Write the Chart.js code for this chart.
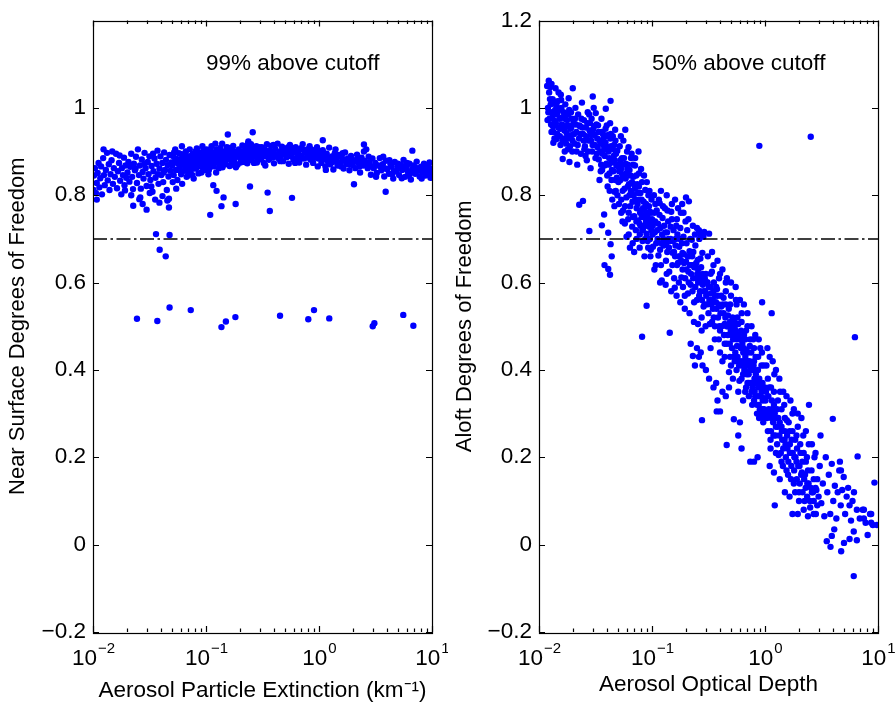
<!DOCTYPE html>
<html>
<head>
<meta charset="utf-8">
<script src="https://cdn.jsdelivr.net/npm/chart.js@4.4.1/dist/chart.umd.min.js"></script>
<style>
  html, body { margin: 0; padding: 0; background: #fff; }
  #wrap { position: relative; width: 896px; height: 706px; }
  canvas { position: absolute; top: 0; }
  #surfaceChart { left: 0; }
  #aloftChart { left: 448px; }
</style>
</head>
<body>
<div id="wrap">
  <canvas id="surfaceChart" width="448" height="706"></canvas>
  <canvas id="aloftChart" width="448" height="706"></canvas>
</div>
<script>
// Axis ticks and the cutoff line
const xTickValues = [0.01, 0.1, 1, 10];
const yTickValues = [-0.2, 0, 0.2, 0.4, 0.6, 0.8, 1, 1.2];
const cutoff = 0.7;

// Left panel: near surface DOF vs aerosol particle extinction (km^-1)
const surfacePoints = [
  // 0.01 - 0.02
  [0.0101,.812],[0.0102,.845],[0.0104,.862],[0.0106,.805],[0.0108,.828],[0.011,.851],[0.0112,.874],[0.0114,.818],
  [0.0116,.839],[0.0118,.866],[0.012,.802],[0.0123,.885],[0.0125,.846],[0.0127,.823],[0.013,.858],[0.0133,.897],
  [0.0135,.834],[0.0138,.871],[0.014,.812],[0.0143,.848],[0.0146,.88],[0.015,.826],[0.0153,.862],[0.0156,.842],
  [0.016,.895],[0.0163,.816],[0.0166,.855],[0.017,.874],[0.0174,.833],[0.0178,.802],[0.018,.862],[0.0184,.846],
  [0.0188,.886],[0.019,.823],[0.0194,.868],[0.0197,.84],[0.0124,.905],[0.0148,.9],[0.0172,.891],[0.0192,.811],
  // 0.02 - 0.05
  [0.0202,.852],[0.0206,.876],[0.021,.831],[0.0214,.865],[0.0218,.895],[0.0222,.842],[0.0226,.814],[0.023,.872],
  [0.0235,.857],[0.024,.888],[0.0245,.828],[0.025,.905],[0.0255,.846],[0.026,.868],[0.0265,.815],[0.027,.882],
  [0.0275,.853],[0.028,.838],[0.0286,.897],[0.0292,.862],[0.0298,.821],[0.0305,.876],[0.031,.848],[0.0316,.889],
  [0.0322,.835],[0.033,.867],[0.0336,.808],[0.0343,.855],[0.035,.884],[0.0357,.84],[0.0365,.872],[0.0372,.902],
  [0.038,.826],[0.0388,.861],[0.0395,.889],[0.0402,.846],[0.041,.874],[0.0418,.83],[0.0426,.898],[0.0434,.858],
  [0.0442,.881],[0.045,.812],[0.0458,.869],[0.0466,.843],[0.0475,.892],[0.0484,.856],[0.0493,.875],[0.0218,.8],
  [0.0262,.795],[0.0318,.805],[0.0355,.79],[0.0412,.798],[0.0455,.788],[0.034,.895],[0.0285,.872],[0.0238,.861],
  [0.0422,.852],[0.0375,.848],[0.0328,.82],
  // 0.05 - 0.1
  [0.0502,.868],[0.051,.89],[0.0518,.846],[0.0526,.877],[0.0534,.905],[0.0542,.858],[0.055,.883],[0.0558,.835],
  [0.0566,.872],[0.0575,.896],[0.0584,.862],[0.0593,.881],[0.0602,.848],[0.0612,.912],[0.0622,.87],[0.0632,.889],
  [0.0642,.856],[0.0652,.878],[0.0663,.9],[0.0674,.842],[0.0685,.866],[0.0696,.887],[0.0707,.872],[0.0718,.905],
  [0.073,.853],[0.0742,.882],[0.0754,.868],[0.0766,.895],[0.0778,.838],[0.079,.876],[0.0803,.889],[0.0816,.861],
  [0.083,.907],[0.0844,.874],[0.0858,.85],[0.0872,.886],[0.0886,.898],[0.09,.866],[0.0915,.88],[0.093,.912],
  [0.0945,.857],[0.096,.891],[0.0975,.872],[0.099,.884],[0.0508,.83],[0.0545,.815],[0.0588,.87],[0.0615,.826],
  [0.0658,.896],[0.069,.845],[0.0735,.89],[0.0772,.861],[0.082,.878],[0.0865,.895],[0.091,.852],[0.0955,.869],
  [0.0522,.898],[0.0572,.858],[0.0628,.876],[0.0668,.862],[0.0712,.885],[0.0758,.846],[0.0808,.9],[0.0852,.867],
  [0.0898,.879],[0.0948,.9],[0.0985,.858],[0.0555,.88],[0.0605,.894],[0.0648,.868],[0.0702,.858],[0.0748,.875],
  [0.0795,.884],[0.0838,.892],[0.0878,.872],[0.0925,.886],[0.0968,.878],
  // 0.1 - 0.3
  [0.1,.885],[0.102,.87],[0.104,.9],[0.106,.858],[0.108,.891],[0.11,.877],[0.112,.912],[0.114,.884],
  [0.117,.866],[0.119,.897],[0.122,.879],[0.124,.905],[0.127,.888],[0.13,.862],[0.133,.895],[0.136,.876],
  [0.139,.918],[0.142,.887],[0.145,.9],[0.148,.871],[0.152,.893],[0.155,.882],[0.159,.908],[0.162,.867],
  [0.166,.896],[0.17,.885],[0.174,.913],[0.178,.878],[0.182,.899],[0.186,.889],[0.19,.87],[0.195,.905],
  [0.2,.892],[0.205,.882],[0.21,.914],[0.215,.897],[0.22,.876],[0.225,.903],[0.23,.889],[0.236,.919],
  [0.242,.896],[0.248,.881],[0.254,.907],[0.26,.893],[0.266,.874],[0.272,.901],[0.279,.912],[0.286,.887],
  [0.293,.898],[0.101,.905],[0.105,.848],[0.109,.865],[0.113,.893],[0.118,.882],[0.123,.852],[0.128,.874],
  [0.134,.908],[0.14,.864],[0.146,.883],[0.153,.91],[0.16,.885],[0.168,.874],[0.176,.892],[0.184,.864],
  [0.192,.888],[0.202,.875],[0.212,.889],[0.222,.91],[0.232,.873],[0.244,.908],[0.256,.886],[0.268,.892],
  [0.282,.875],[0.296,.91],[0.107,.888],[0.115,.872],[0.125,.896],[0.137,.89],[0.15,.898],[0.164,.902],
  [0.18,.868],[0.198,.897],[0.218,.885],[0.238,.88],[0.262,.91],[0.288,.9],[0.103,.878],[0.121,.918],
  [0.143,.875],[0.157,.892],[0.172,.904],[0.188,.895],[0.208,.9],[0.228,.898],[0.25,.917],[0.275,.888],
  [0.131,.885],[0.111,.9],
  // 0.3 - 1
  [0.3,.895],[0.306,.882],[0.312,.91],[0.318,.898],[0.325,.874],[0.332,.905],[0.339,.889],[0.346,.917],
  [0.353,.893],[0.36,.881],[0.368,.902],[0.376,.913],[0.384,.886],[0.392,.899],[0.4,.873],[0.41,.906],
  [0.42,.893],[0.43,.918],[0.44,.884],[0.45,.9],[0.46,.89],[0.47,.911],[0.48,.878],[0.492,.897],
  [0.504,.907],[0.516,.887],[0.528,.896],[0.54,.872],[0.553,.915],[0.566,.889],[0.58,.902],[0.594,.881],
  [0.608,.899],[0.622,.91],[0.637,.886],[0.652,.897],[0.668,.875],[0.684,.906],[0.7,.891],[0.717,.917],
  [0.734,.884],[0.752,.898],[0.77,.87],[0.788,.905],[0.807,.889],[0.826,.912],[0.846,.881],[0.866,.896],
  [0.887,.874],[0.908,.902],[0.93,.886],[0.952,.895],[0.975,.866],[0.998,.9],[0.315,.888],[0.342,.9],
  [0.372,.893],[0.405,.888],[0.445,.895],[0.485,.903],[0.522,.9],[0.56,.894],[0.6,.907],[0.645,.892],
  [0.69,.884],[0.74,.903],[0.795,.894],[0.855,.905],[0.92,.893],[0.985,.884],[0.335,.868],[0.395,.915],
  [0.455,.878],[0.535,.91],[0.615,.874],[0.7,.908],[0.78,.886],[0.875,.884],[0.96,.91],
  // 1 - 3
  [1.02,.888],[1.05,.874],[1.08,.903],[1.11,.882],[1.14,.866],[1.17,.895],[1.2,.877],[1.23,.909],
  [1.26,.871],[1.3,.889],[1.34,.859],[1.38,.896],[1.42,.878],[1.46,.868],[1.5,.892],[1.55,.875],
  [1.6,.885],[1.65,.861],[1.7,.898],[1.75,.872],[1.8,.884],[1.86,.857],[1.92,.89],[1.98,.869],
  [2.04,.88],[2.1,.862],[2.17,.893],[2.24,.874],[2.31,.852],[2.38,.886],[2.46,.868],[2.54,.879],
  [2.62,.905],[2.7,.862],[2.79,.875],[2.88,.847],[2.97,.884],[1.04,.9],[1.12,.893],[1.22,.884],
  [1.32,.876],[1.44,.887],[1.57,.866],[1.68,.879],[1.83,.871],[1.95,.88],[2.12,.877],[2.28,.866],
  [2.44,.875],[2.6,.87],[2.75,.888],[2.92,.866],[1.15,.858],[1.4,.905],[1.62,.896],[1.9,.877],
  [2.2,.883],[2.5,.9],
  // 3 - 10
  [3.05,.862],[3.15,.874],[3.25,.851],[3.35,.868],[3.45,.885],[3.56,.857],[3.67,.871],[3.78,.843],
  [3.9,.879],[4.02,.86],[4.15,.849],[4.28,.872],[4.4,.865],[4.54,.838],[4.68,.876],[4.82,.855],
  [4.97,.866],[5.12,.846],[5.28,.87],[5.44,.858],[5.6,.881],[5.77,.842],[5.95,.862],[6.13,.853],
  [6.32,.872],[6.5,.836],[6.7,.86],[6.9,.868],[7.1,.849],[7.32,.877],[7.54,.856],[7.77,.843],
  [8.0,.865],[8.25,.852],[8.5,.872],[8.75,.845],[9.0,.858],[9.3,.868],[9.6,.85],[9.85,.86],
  [3.2,.842],[3.5,.866],[3.85,.861],[4.2,.88],[4.6,.855],[5.0,.872],[5.4,.839],[5.85,.868],
  [6.25,.845],[6.8,.852],[7.4,.862],[8.1,.838],[8.8,.862],[9.5,.875],[3.7,.888],[4.45,.848],
  [5.2,.862],[6.0,.874],[7.0,.858],[8.4,.856],[9.7,.84],
  // stragglers
  [0.0245,.517],[0.0371,.512],[0.0476,.543],[0.0733,.537],[0.137,.498],[0.150,.511],[0.182,.521],[0.452,.524],
  [0.804,.516],[0.903,.537],[1.233,.518],[2.99,.5],[3.09,.507],[5.57,.526],[6.84,.501],
  [0.0361,.711],[0.0476,.709],[0.0389,.675],[0.044,.66],
  [0.0227,.776],[0.0298,.767],[0.109,.755],[0.137,.775],[0.143,.795],[0.183,.78],[0.245,.82],[0.351,.806],
  [0.367,.764],[0.577,.794],[3.89,.808],[2.04,.825],[0.0387,.783],[0.047,.772],[0.047,.792],[0.0257,.791],
  [0.0275,.78],[0.116,.823],[0.124,.81],
  [0.156,.939],[0.259,.944],[0.237,.923],[1.08,.926],[2.5,.916],[6.7,.902],[0.0108,.79]
];

// Right panel: aloft DOF vs aerosol optical depth
const aloftPoints = [
  // 0.0115 - 0.02
  [0.0118,1.05],[0.012,1.0],[0.0122,1.062],[0.0124,.975],[0.0126,1.048],[0.0128,.962],[0.013,.99],[0.0132,1.02],
  [0.0134,.945],[0.0136,1.01],[0.0138,.97],[0.014,1.045],[0.0142,.928],[0.0144,.985],[0.0146,1.015],[0.0148,.955],
  [0.015,.998],[0.0153,.935],[0.0156,1.03],[0.0159,.962],[0.0162,.883],[0.0165,.99],[0.0168,.948],[0.0171,1.008],
  [0.0174,.918],[0.0177,.972],[0.018,.905],[0.0183,1.022],[0.0186,.876],[0.0189,.952],[0.0192,.99],[0.0196,.938],
  [0.0199,1.045],[0.0121,.99],[0.0127,1.008],[0.0133,.958],[0.0139,.995],[0.0145,.94],[0.0152,.975],[0.0158,1.0],
  [0.0164,.96],[0.017,.975],[0.0176,.942],[0.0182,.96],[0.0188,.912],[0.0194,.975],[0.0125,1.02],[0.0137,.93],
  [0.0149,1.035],[0.0161,.925],[0.0173,.987],[0.0185,.995],[0.0197,.9],[0.0131,.978],[0.0155,.915],[0.0179,.93],
  [0.0119,.972],[0.0123,1.035],[0.0129,.945],[0.0135,.99],[0.0141,.965],[0.0147,.992],[0.0154,.952],[0.016,.978],
  [0.0167,.93],[0.0175,.958],[0.0181,.985],[0.0187,.935],[0.0193,.955],[0.0198,.925],[0.0143,1.005],[0.0157,1.018],
  [0.0169,.9],[0.0129,1.055],[0.0134,.92],
  // 0.02 - 0.05
  [0.0202,.965],[0.0206,.918],[0.021,1.0],[0.0214,.945],[0.0218,.87],[0.0222,.985],[0.0226,.93],[0.023,.958],
  [0.0235,.895],[0.024,1.012],[0.0245,.94],[0.025,.972],[0.0255,.912],[0.026,.955],[0.0265,.88],[0.027,.99],
  [0.0275,.925],[0.028,.948],[0.0286,.862],[0.0292,.975],[0.0298,.915],[0.0305,1.0],[0.031,.938],[0.0316,.885],
  [0.0322,.962],[0.033,.91],[0.0336,.945],[0.0343,.835],[0.035,.92],[0.0357,.975],[0.0365,.895],[0.0372,.93],
  [0.038,.868],[0.0388,.952],[0.0395,.905],[0.0402,.845],[0.041,.938],[0.0418,.885],[0.0426,.965],[0.0434,.912],
  [0.0442,.858],[0.045,.935],[0.0458,.89],[0.0466,.808],[0.0475,.925],[0.0484,.868],[0.0493,.902],[0.0208,.975],
  [0.0228,.96],[0.0248,.925],[0.0268,.965],[0.0288,.938],[0.0308,.958],[0.0328,.93],[0.0348,.9],[0.0368,.94],
  [0.0388,.92],[0.0408,.91],[0.0428,.93],[0.0448,.905],[0.0468,.88],[0.0488,.84],[0.0215,.9],[0.0258,.89],
  [0.0295,.9],[0.0338,.882],[0.0378,.905],[0.0415,.87],[0.0455,.855],[0.0237,.975],[0.0278,.985],[0.0318,.988],
  [0.0358,.945],[0.0398,.96],[0.0432,.94],[0.0472,.95],[0.0362,.858],[0.0405,.82],[0.0445,.79],[0.0475,.835],
  [0.0299,1.026],[0.043,1.016],[0.039,.998],[0.0377,.756],[0.036,.731],[0.038,.64],[0.041,.631],[0.0425,.618],
  [0.043,.688],[0.044,.66],[0.041,.714],[0.0227,.778],[0.0245,.787],[0.0279,.718],
  [0.0204,.94],[0.0212,.962],[0.022,.915],[0.0232,.94],[0.0242,.955],[0.0252,.905],[0.0262,.935],[0.0272,.9],
  [0.0282,.965],[0.029,.925],[0.03,.95],[0.0312,.915],[0.0325,.895],[0.0333,.96],[0.0345,.925],[0.0355,.87],
  [0.037,.915],[0.0382,.89],[0.0392,.935],[0.0412,.9],[0.042,.85],[0.044,.875],[0.0462,.915],[0.048,.895],
  [0.0496,.87],[0.0352,.855],[0.0395,.872],[0.0438,.835],[0.0478,.81],[0.0422,.81],[0.0465,.775],[0.0495,.8],
  // 0.05 - 0.1
  [0.0502,.865],[0.051,.78],[0.0518,.912],[0.0526,.835],[0.0534,.76],[0.0542,.885],[0.055,.81],[0.0558,.925],
  [0.0566,.845],[0.0575,.735],[0.0584,.872],[0.0593,.795],[0.0602,.9],[0.0612,.82],[0.0622,.71],[0.0632,.858],
  [0.0642,.775],[0.0652,.885],[0.0663,.805],[0.0674,.69],[0.0685,.842],[0.0696,.752],[0.0707,.868],[0.0718,.79],
  [0.073,.7],[0.0742,.825],[0.0754,.742],[0.0766,.85],[0.0778,.68],[0.079,.805],[0.0803,.765],[0.0816,.83],
  [0.083,.722],[0.0844,.785],[0.0858,.66],[0.0872,.812],[0.0886,.74],[0.09,.775],[0.0915,.695],[0.093,.8],
  [0.0945,.728],[0.096,.762],[0.0975,.675],[0.099,.79],[0.0505,.83],[0.0525,.88],[0.0545,.848],[0.0565,.885],
  [0.0585,.838],[0.0605,.86],[0.0625,.825],[0.0645,.845],[0.0665,.83],[0.0685,.8],[0.0705,.815],[0.0725,.845],
  [0.0745,.78],[0.0765,.82],[0.0785,.76],[0.081,.79],[0.0835,.75],[0.086,.77],[0.0885,.78],[0.091,.752],
  [0.094,.775],[0.097,.74],[0.053,.935],[0.058,.95],[0.062,.91],[0.066,.895],[0.071,.885],[0.0555,.765],
  [0.0615,.745],[0.0668,.728],[0.072,.72],[0.078,.71],[0.0825,.695],[0.0895,.712],[0.0945,.7],[0.0988,.72],
  [0.0548,.74],[0.0595,.705],[0.0638,.68],[0.0695,.67],
  [0.0512,.855],[0.0532,.86],[0.0552,.87],[0.0572,.815],[0.0592,.85],[0.0612,.87],[0.0632,.8],[0.0652,.81],
  [0.0672,.785],[0.0692,.825],[0.0712,.79],[0.0732,.77],[0.0752,.805],[0.0772,.79],[0.0792,.73],[0.0812,.75],
  [0.0832,.77],[0.0852,.73],[0.0872,.755],[0.0892,.76],[0.0912,.73],[0.0935,.745],[0.0958,.7],[0.098,.76],
  [0.0535,.79],[0.0578,.775],[0.0622,.76],[0.0678,.75],[0.0728,.74],[0.0775,.735],[0.0822,.72],[0.0872,.7],
  [0.0925,.68],[0.0968,.66],[0.076,.9],[0.08,.86],[0.085,.845],[0.09,.83],[0.095,.81],[0.068,.87],
  // 0.1 - 0.3
  [0.1,.745],[0.102,.682],[0.104,.8],[0.106,.715],[0.108,.64],[0.11,.765],[0.112,.7],[0.114,.662],
  [0.117,.782],[0.119,.725],[0.122,.605],[0.124,.748],[0.127,.685],[0.13,.77],[0.133,.65],[0.136,.715],
  [0.139,.74],[0.142,.625],[0.145,.695],[0.148,.762],[0.152,.668],[0.155,.72],[0.159,.588],[0.162,.7],
  [0.166,.745],[0.17,.645],[0.174,.682],[0.178,.725],[0.182,.612],[0.186,.668],[0.19,.705],[0.195,.57],
  [0.2,.648],[0.205,.72],[0.21,.625],[0.215,.672],[0.22,.595],[0.225,.698],[0.23,.64],[0.236,.555],
  [0.242,.685],[0.248,.61],[0.254,.652],[0.26,.72],[0.266,.58],[0.272,.635],[0.279,.668],[0.286,.545],
  [0.293,.61],[0.101,.71],[0.105,.76],[0.109,.69],[0.113,.735],[0.118,.675],[0.123,.71],[0.128,.73],
  [0.134,.69],[0.14,.7],[0.146,.728],[0.153,.695],[0.16,.66],[0.168,.71],[0.176,.66],[0.184,.69],
  [0.192,.645],[0.202,.69],[0.212,.66],[0.222,.64],[0.232,.67],[0.244,.635],[0.256,.6],[0.268,.655],
  [0.282,.62],[0.296,.58],[0.107,.78],[0.115,.79],[0.125,.775],[0.137,.765],[0.15,.745],[0.164,.73],
  [0.18,.76],[0.198,.74],[0.218,.7],[0.24,.71],[0.262,.7],[0.285,.705],[0.12,.64],[0.135,.62],
  [0.157,.61],[0.173,.6],[0.188,.59],[0.208,.575],[0.228,.58],[0.25,.56],[0.275,.52],[0.298,.5],
  [0.2,.795],[0.212,.786],[0.32,.712],[0.29,.716],[0.27,.44],[0.25,.45],[0.28,.41],[0.26,.43],
  [0.23,.432],[0.24,.41],[0.22,.46],
  [0.1015,.73],[0.1065,.74],[0.1115,.72],[0.1165,.755],[0.1215,.69],[0.1265,.7],[0.1315,.715],[0.1365,.67],
  [0.1415,.68],[0.1465,.7],[0.1515,.64],[0.1565,.67],[0.1615,.685],[0.1665,.64],[0.1715,.66],[0.1765,.7],
  [0.1815,.65],[0.1865,.63],[0.1915,.665],[0.1965,.61],[0.2015,.63],[0.2065,.66],[0.2115,.6],[0.2165,.64],
  [0.2215,.62],[0.2265,.66],[0.2315,.61],[0.2365,.635],[0.2415,.59],[0.2465,.645],[0.2515,.62],[0.2565,.63],
  [0.2615,.57],[0.2665,.61],[0.2715,.6],[0.2765,.56],[0.2815,.595],[0.2865,.58],[0.2915,.55],[0.2965,.6],
  [0.105,.63],[0.118,.6],[0.132,.595],[0.148,.58],[0.165,.57],[0.178,.555],[0.195,.54],[0.215,.53],
  [0.235,.51],[0.255,.505],[0.275,.49],[0.15,.78],[0.17,.77],[0.19,.76],[0.21,.745],[0.23,.73],
  [0.25,.725],[0.27,.71],[0.12,.81],[0.135,.8],[0.16,.79],[0.185,.78],
  [0.0896,.547],[0.0817,.476],[0.1436,.485],[0.277,.285],
  // 0.3 - 1
  [0.3,.62],[0.306,.55],[0.312,.66],[0.318,.59],[0.325,.505],[0.332,.575],[0.339,.625],[0.346,.54],
  [0.353,.6],[0.36,.47],[0.368,.555],[0.376,.585],[0.384,.52],[0.392,.61],[0.4,.49],[0.41,.545],
  [0.42,.42],[0.43,.565],[0.44,.505],[0.45,.58],[0.46,.46],[0.47,.525],[0.48,.395],[0.492,.55],
  [0.504,.48],[0.516,.52],[0.528,.43],[0.54,.5],[0.553,.56],[0.566,.455],[0.58,.505],[0.594,.375],
  [0.608,.47],[0.622,.53],[0.637,.42],[0.652,.48],[0.668,.35],[0.684,.445],[0.7,.5],[0.717,.39],
  [0.734,.455],[0.752,.41],[0.77,.32],[0.788,.47],[0.807,.38],[0.826,.43],[0.846,.34],[0.866,.4],
  [0.887,.29],[0.908,.45],[0.93,.36],[0.952,.31],[0.975,.41],[0.998,.335],[0.31,.6],[0.33,.62],
  [0.35,.58],[0.37,.59],[0.39,.55],[0.41,.57],[0.43,.53],[0.45,.55],[0.47,.5],[0.49,.51],
  [0.51,.5],[0.53,.48],[0.55,.49],[0.57,.52],[0.59,.47],[0.61,.45],[0.63,.46],[0.65,.45],
  [0.67,.43],[0.69,.41],[0.71,.44],[0.73,.42],[0.75,.37],[0.78,.4],[0.8,.42],[0.83,.39],
  [0.86,.37],[0.89,.38],[0.92,.34],[0.95,.37],[0.98,.31],[0.34,.67],[0.38,.65],[0.42,.63],
  [0.46,.61],[0.5,.6],[0.55,.59],[0.6,.56],[0.65,.55],[0.7,.53],[0.76,.5],[0.82,.48],
  [0.88,.47],[0.94,.44],[0.4,.44],[0.44,.43],[0.5,.41],[0.56,.4],[0.62,.38],[0.68,.36],
  [0.72,.34],[0.8,.33],[0.85,.3],[0.9,.31],[0.965,.28],[0.36,.5],[0.52,.38],[0.58,.35],
  [0.64,.33],[0.3,.4],[0.32,.38],[0.35,.36],[0.37,.37],[0.38,.33],[0.4,.305],[0.42,.35],
  [0.45,.34],[0.48,.36],[0.53,.287],[0.6,.28],[0.58,.25],[0.62,.22],[0.74,.19],[0.8,.19],
  [0.86,.2],[0.374,.305],[0.33,.45],
  [0.302,.57],[0.308,.6],[0.316,.53],[0.322,.56],[0.328,.59],[0.336,.55],[0.344,.56],[0.352,.52],
  [0.362,.57],[0.372,.54],[0.382,.57],[0.394,.5],[0.404,.53],[0.414,.5],[0.424,.55],[0.434,.48],
  [0.446,.52],[0.458,.5],[0.468,.48],[0.478,.54],[0.488,.46],[0.498,.49],[0.51,.45],[0.522,.47],
  [0.534,.51],[0.546,.44],[0.558,.47],[0.572,.43],[0.586,.48],[0.6,.42],[0.614,.49],[0.628,.41],
  [0.642,.44],[0.656,.4],[0.672,.47],[0.688,.39],[0.704,.42],[0.72,.37],[0.738,.4],[0.756,.44],
  [0.774,.36],[0.792,.41],[0.81,.35],[0.83,.37],[0.85,.32],[0.87,.36],[0.89,.34],[0.91,.3],
  [0.932,.35],[0.954,.33],[0.976,.29],[0.995,.36],[0.34,.51],[0.39,.47],[0.44,.46],[0.49,.43],
  [0.54,.42],[0.59,.41],[0.64,.39],[0.7,.37],[0.76,.35],[0.82,.34],[0.88,.32],[0.95,.3],
  [0.35,.64],[0.4,.62],[0.45,.6],[0.5,.57],[0.56,.55],[0.62,.51],[0.68,.49],[0.74,.47],
  [0.8,.45],[0.87,.43],[0.93,.41],
  [0.458,.228],[0.891,.913],[0.943,.555],[1.146,.53],
  // 1 - 3
  [1.0,.3],[1.03,.41],[1.06,.26],[1.09,.36],[1.12,.22],[1.15,.33],[1.18,.28],[1.21,.39],
  [1.24,.25],[1.28,.31],[1.32,.205],[1.36,.35],[1.4,.27],[1.44,.18],[1.48,.32],[1.52,.23],
  [1.56,.285],[1.6,.16],[1.65,.26],[1.7,.21],[1.75,.3],[1.8,.14],[1.85,.24],[1.9,.19],
  [1.95,.27],[2.0,.12],[2.06,.21],[2.12,.165],[2.18,.25],[2.24,.1],[2.3,.19],[2.37,.14],
  [2.44,.23],[2.51,.085],[2.58,.17],[2.66,.12],[2.74,.2],[2.82,.07],[2.9,.15],[2.98,.11],
  [1.02,.35],[1.08,.31],[1.14,.29],[1.2,.32],[1.26,.29],[1.3,.27],[1.35,.28],[1.42,.24],
  [1.5,.26],[1.58,.22],[1.66,.21],[1.72,.24],[1.82,.2],[1.92,.22],[2.02,.18],[2.14,.19],
  [2.26,.16],[2.4,.17],[2.55,.13],[2.7,.15],[2.85,.125],[1.05,.45],[1.1,.43],[1.17,.42],
  [1.25,.4],[1.34,.38],[1.45,.35],[1.55,.34],[1.68,.33],[1.8,.31],[1.95,.3],[2.1,.29],
  [2.3,.26],[2.45,.32],[2.6,.23],[2.8,.21],[1.1,.18],[1.2,.165],[1.35,.15],[1.5,.12],
  [1.65,.11],[1.75,.07],[1.95,.07],[2.2,.08],[2.4,.065],[2.7,.07],
  [1.01,.33],[1.04,.29],[1.07,.34],[1.1,.3],[1.13,.26],[1.16,.31],[1.19,.25],[1.22,.3],
  [1.25,.27],[1.28,.23],[1.31,.29],[1.34,.25],[1.38,.21],[1.41,.26],[1.45,.22],[1.49,.24],
  [1.53,.2],[1.57,.25],[1.61,.19],[1.66,.23],[1.71,.18],[1.76,.21],[1.81,.17],[1.86,.2],
  [1.91,.15],[1.97,.18],[2.03,.14],[2.09,.16],[2.15,.12],[2.22,.15],[2.29,.13],[2.36,.11],
  [2.43,.14],[2.5,.1],[2.6,.12],[2.7,.1],[2.8,.13],[2.9,.09],[1.06,.38],[1.13,.36],
  [1.2,.35],[1.3,.33],[1.4,.31],[1.5,.29],[1.62,.28],[1.75,.26],[1.9,.25],[2.05,.23],
  [2.2,.21],[2.35,.2],[1.12,.24],[1.25,.21],[1.4,.19],[1.55,.17],[1.7,.15],[1.85,.12],
  [2.0,.1],
  [1.22,.09],[2.54,.934],
  // 3 - 10
  [3.05,.18],[3.15,.095],[3.25,.14],[3.35,.065],[3.45,.2],[3.56,.12],[3.67,.16],[3.78,.07],
  [3.9,.185],[4.02,.1],[4.15,.135],[4.28,.06],[4.4,.12],[4.54,.17],[4.68,.09],[4.82,.125],
  [4.97,.155],[5.12,.07],[5.28,.11],[5.44,.13],[5.6,.09],[5.77,.055],[5.95,.1],[6.13,.12],
  [6.5,.08],[6.9,.06],[7.32,.08],[7.77,.05],[8.5,.07],[9.0,.045],[9.8,.045],
  [3.52,.008],[3.8,-.005],[4.72,-.015],[5.0,.004],[3.9,.02],[4.1,.035],[5.6,.013],[6.5,.01],
  [6.1,.03],[8.1,.022],[7.5,.08],[7.5,.06],[8.7,.07],[8.7,.05],
  [3.98,.288],[6.25,.475],[6.6,.202],[9.3,.142],[6.1,-.072],[3.1,.25],[4.6,.19],[4.7,.17]
];

const FONT = '"Liberation Sans", Arial, Helvetica, sans-serif';
const TEXT_SIZE = 22.5;
const SUP_SIZE = 15;
Chart.defaults.font.family = FONT;
Chart.defaults.font.size = TEXT_SIZE;
Chart.defaults.color = '#000';

// box, inward ticks, 10^n labels and the note text, MATLAB style
const matlabFrame = {
  id: 'matlabFrame',
  afterDraw(chart, args, opts) {
    const { ctx, chartArea: a, scales: { x, y } } = chart;
    ctx.save();
    ctx.strokeStyle = '#000';
    ctx.lineWidth = 1.2;
    ctx.beginPath();
    // y ticks on both sides
    yTickValues.forEach(v => {
      const py = Math.round(y.getPixelForValue(v)) + 0.5;
      ctx.moveTo(a.left, py); ctx.lineTo(a.left + 6, py);
      ctx.moveTo(a.right, py); ctx.lineTo(a.right - 6, py);
    });
    // log x ticks, major and minor, bottom and top
    for (let d = -2; d <= 1; d++) {
      for (let m = 1; m <= 9; m++) {
        const v = m * Math.pow(10, d);
        if (v > 10.0001) break;
        const px = Math.round(x.getPixelForValue(v)) + 0.5;
        const len = m === 1 ? 6 : 3.5;
        ctx.moveTo(px, a.bottom); ctx.lineTo(px, a.bottom - len);
        ctx.moveTo(px, a.top); ctx.lineTo(px, a.top + len);
      }
    }
    ctx.stroke();
    ctx.strokeRect(Math.round(a.left) + 0.5, Math.round(a.top) + 0.5, Math.round(a.width), Math.round(a.height));

    // x tick labels as 10 with a raised exponent
    ctx.fillStyle = '#000';
    ctx.textBaseline = 'alphabetic';
    ctx.textAlign = 'left';
    const big = TEXT_SIZE + 'px ' + FONT;
    const small = SUP_SIZE + 'px ' + FONT;
    xTickValues.forEach(v => {
      const e = Math.round(Math.log10(v));
      const sup = e < 0 ? '\u2212' + (-e) : String(e);
      ctx.font = big;
      const wb = ctx.measureText('10').width;
      ctx.font = small;
      const ws = ctx.measureText(sup).width;
      const x0 = x.getPixelForValue(v) - (wb + ws) / 2;
      ctx.font = big;
      ctx.fillText('10', x0, a.bottom + 33);
      ctx.font = small;
      ctx.fillText(sup, x0 + wb + 1, a.bottom + 21);
    });

    // note text, anchored in data coordinates
    ctx.font = big;
    ctx.textBaseline = 'middle';
    ctx.fillText(opts.note, x.getPixelForValue(opts.noteX), y.getPixelForValue(opts.noteY));
    ctx.restore();
  }
};

function makeChart(id, points, cfg) {
  return new Chart(document.getElementById(id), {
    type: 'scatter',
    data: {
      datasets: [
        {
          type: 'line',
          data: [{ x: xTickValues[0], y: cutoff }, { x: xTickValues[3], y: cutoff }],
          borderColor: '#000',
          borderWidth: 1.5,
          borderDash: [14, 3.5, 2.5, 3.5],
          pointRadius: 0,
          order: 0
        },
        {
          data: points.map(([x, y]) => ({ x, y })),
          pointRadius: 3.2,
          pointBorderWidth: 0,
          backgroundColor: '#0000ff',
          borderColor: '#0000ff',
          order: 1
        }
      ]
    },
    options: {
      responsive: false,
      devicePixelRatio: 1,
      animation: false,
      layout: { padding: { top: 12, right: cfg.padRight, bottom: 0, left: 0 } },
      plugins: {
        legend: { display: false },
        tooltip: { enabled: false },
        matlabFrame: { note: cfg.note, noteX: 0.1, noteY: 1.1 }
      },
      scales: {
        x: {
          type: 'logarithmic',
          min: 0.01,
          max: 10,
          grid: { display: false, drawTicks: false },
          border: { display: false },
          ticks: { display: false },
          title: { display: true, text: cfg.xTitle, padding: { top: 0, bottom: cfg.xTitlePad } },
          afterFit: s => { s.height = 74; }
        },
        y: {
          min: -0.2,
          max: 1.2,
          grid: { display: false, drawTicks: false },
          border: { display: false },
          afterBuildTicks: s => { s.ticks = yTickValues.map(v => ({ value: v })); },
          ticks: {
            padding: 7,
            autoSkip: false,
            callback: v => {
              if (cfg.hideTop && v > 1.1) return '';
              const r = Math.round(v * 10) / 10;
              return r < 0 ? '\u2212' + Math.abs(r) : String(r);
            }
          },
          title: {
            display: true,
            text: cfg.yTitle,
            font: { size: 22 },
            padding: { top: cfg.yTitlePad, bottom: 0 }
          },
          afterFit: s => { s.width = cfg.yWidth; }
        }
      }
    },
    plugins: [matlabFrame]
  });
}

makeChart('surfaceChart', surfacePoints, {
  xTitle: 'Aerosol Particle Extinction (km\u207B\u00B9)',
  yTitle: 'Near Surface Degrees of Freedom',
  note: '99% above cutoff',
  hideTop: true,
  yWidth: 93,
  padRight: 16,
  xTitlePad: 1.5,
  yTitlePad: 4.3
});

makeChart('aloftChart', aloftPoints, {
  xTitle: 'Aerosol Optical Depth',
  yTitle: 'Aloft Degrees of Freedom',
  note: '50% above cutoff',
  hideTop: false,
  yWidth: 91,
  padRight: 18,
  xTitlePad: 7.5,
  yTitlePad: 3.3
});
</script>
</body>
</html>
